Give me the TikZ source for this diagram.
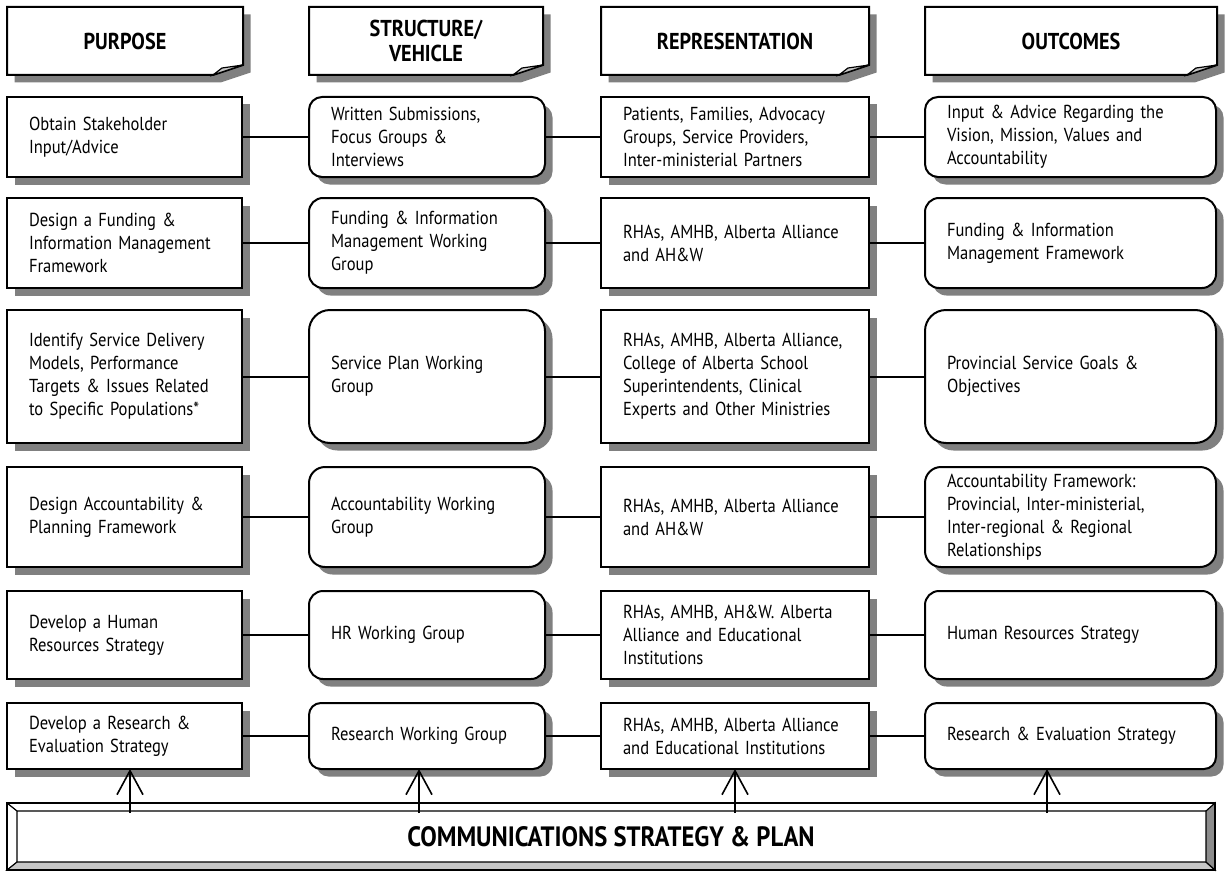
\documentclass[tikz,border=0pt]{standalone}
\usepackage{fontspec}
\setmainfont{PT Sans}[FakeStretch=0.88]
\usepackage{tikz}
\usetikzlibrary{shadows}
\usetikzlibrary{arrows.meta}
\usetikzlibrary{backgrounds}
\usetikzlibrary{calc}
\hyphenpenalty=10000
\exhyphenpenalty=10000

\begin{document}
\begin{tikzpicture}[x=0.5pt,y=-0.5pt,
    cell/.style={draw,line width=1pt,fill=white,anchor=north west,align=left,
      inner xsep=11pt,inner ysep=0pt,outer sep=0pt,
      font=\fontsize{9.4}{11.5}\selectfont,
      drop shadow={shadow xshift=3.75pt,shadow yshift=-3.75pt,fill=black!50,opacity=1}},
    row1/.style={minimum height=40pt},
    row2/.style={minimum height=45pt},
    row3/.style={minimum height=66.5pt},
    row4/.style={minimum height=50pt},
    row5/.style={minimum height=44pt},
    row6/.style={minimum height=33pt},
    heading/.style={anchor=north west,inner sep=0pt,outer sep=0pt,align=center,
      minimum height=34pt,font=\bfseries\fontsize{11.5}{12.5}\selectfont},
    link/.style={line width=1pt},
    uparrow/.style={line width=0.8pt,-{Straight Barb[length=12pt,width=13pt]}}]
    \useasboundingbox (0,0) rectangle (1225,872);

    \node[heading,minimum width=118pt] (h1) at (7,7) {PURPOSE};
    \node[heading,minimum width=117pt] (h2) at (309,7) {STRUCTURE/\\VEHICLE};
    \node[heading,minimum width=134pt] (h3) at (601,7) {REPRESENTATION};
    \node[heading,minimum width=146pt] (h4) at (925,7) {OUTCOMES};
    \begin{scope}[on background layer]
      \foreach \h in {h1,h2,h3,h4}{
        \fill[black!50] ([shift={(7.5,7.5)}]\h.north west) -- ([shift={(7.5,7.5)}]\h.north east)
          -- ([shift={(7.5,-2.5)}]\h.south east) -- ([shift={(-22.5,7.5)}]\h.south east)
          -- ([shift={(7.5,7.5)}]\h.south west) -- cycle;
        \draw[line width=1pt,fill=white] (\h.north west) -- (\h.north east)
          -- ([shift={(0,-10)}]\h.south east) -- ([shift={(-30,0)}]\h.south east)
          -- (\h.south west) -- cycle;
        \draw[line width=0.6pt,fill=black!22] ([shift={(-30,0)}]\h.south east)
          -- ([shift={(-21,-7)}]\h.south east) -- ([shift={(0,-10)}]\h.south east) -- cycle;
      }
    \end{scope}

    \begin{scope}[every node/.style={cell,text width=95.5pt}]
      \node[row1] (p1) at (7,97) {Obtain Stakeholder\\Input/Advice};
      \node[row2] (p2) at (7,198) {Design a Funding \&\\Information Management\\Framework};
      \node[row3] (p3) at (7,310) {Identify Service Delivery\\Models, Performance\\Targets \& Issues Related\\to Specific Populations*};
      \node[row4] (p4) at (7,467) {Design Accountability \&\\Planning Framework};
      \node[row5] (p5) at (7,591) {Develop a Human\\Resources Strategy};
      \node[row6] (p6) at (7,703) {Develop a Research \&\\Evaluation Strategy};
    \end{scope}

    \begin{scope}[every node/.style={cell,text width=96pt}]
      \node[row1,rounded corners=6.5pt] (s1) at (309,97) {Written Submissions,\\Focus Groups \&\\Interviews};
      \node[row2,rounded corners=7pt] (s2) at (309,198) {Funding \& Information\\Management Working\\Group};
      \node[row3,rounded corners=10.5pt] (s3) at (309,310) {Service Plan Working\\Group};
      \node[row4,rounded corners=8pt] (s4) at (309,467) {Accountability Working\\Group};
      \node[row5,rounded corners=7pt] (s5) at (309,591) {HR Working Group};
      \node[row6,rounded corners=6pt] (s6) at (309,703) {Research Working Group};
    \end{scope}

    \begin{scope}[every node/.style={cell,text width=112pt}]
      \node[row1] (r1) at (601,97) {Patients, Families, Advocacy\\Groups, Service Providers,\\Inter-ministerial Partners};
      \node[row2] (r2) at (601,198) {RHAs, AMHB, Alberta Alliance\\and AH\&W};
      \node[row3] (r3) at (601,310) {RHAs, AMHB, Alberta Alliance,\\College of Alberta School\\Superintendents, Clinical\\Experts and Other Ministries};
      \node[row4] (r4) at (601,467) {RHAs, AMHB, Alberta Alliance\\and AH\&W};
      \node[row5] (r5) at (601,591) {RHAs, AMHB, AH\&W. Alberta\\Alliance and Educational\\Institutions};
      \node[row6] (r6) at (601,703) {RHAs, AMHB, Alberta Alliance\\and Educational Institutions};
    \end{scope}

    \begin{scope}[every node/.style={cell,text width=123.5pt}]
      \node[row1,rounded corners=6.5pt] (o1) at (925,97) {Input \& Advice Regarding the\\Vision, Mission, Values and\\Accountability};
      \node[row2,rounded corners=7pt] (o2) at (925,198) {Funding \& Information\\Management Framework};
      \node[row3,rounded corners=10.5pt] (o3) at (925,310) {Provincial Service Goals \&\\Objectives};
      \node[row4,rounded corners=8pt] (o4) at (925,467) {Accountability Framework:\\Provincial, Inter-ministerial,\\Inter-regional \& Regional\\Relationships};
      \node[row5,rounded corners=7pt] (o5) at (925,591) {Human Resources Strategy};
      \node[row6,rounded corners=6pt] (o6) at (925,703) {Research \& Evaluation Strategy};
    \end{scope}

    \foreach \i in {1,...,6}
      \draw[link] (p\i) -- (s\i) -- (r\i) -- (o\i);

    \node[draw,line width=1pt,fill=white,anchor=north west,minimum width=604pt,minimum height=33.5pt,
      inner sep=0pt,outer sep=0pt,font=\bfseries\fontsize{14}{15}\selectfont] (bar) at (7,803)
      {COMMUNICATIONS STRATEGY \& PLAN};
    \coordinate (bnw) at ([shift={(10,8)}]bar.north west);
    \coordinate (bne) at ([shift={(-9,8)}]bar.north east);
    \coordinate (bse) at ([shift={(-9,-8)}]bar.south east);
    \coordinate (bsw) at ([shift={(10,-8)}]bar.south west);
    \filldraw[fill=black!22,line width=0.6pt] (bar.south west) -- (bar.south east) -- (bse) -- (bsw) -- cycle;
    \filldraw[fill=black!45,line width=0.6pt] (bar.south east) -- (bar.north east) -- (bne) -- (bse) -- cycle;
    \draw[line width=0.6pt] (bar.north west) -- (bnw) -- (bne) (bnw) -- (bsw);
    \draw[line width=1pt] (bar.north west) rectangle (bar.south east);

    \coordinate (a1) at (130,813);
    \coordinate (a2) at (419,813);
    \coordinate (a3) at (735,813);
    \coordinate (a4) at (1047,813);
    \foreach \a/\n in {a1/p6,a2/s6,a3/r6,a4/o6}
      \draw[uparrow] (\a) -- (\a |- \n.south);
\end{tikzpicture}
\end{document}
